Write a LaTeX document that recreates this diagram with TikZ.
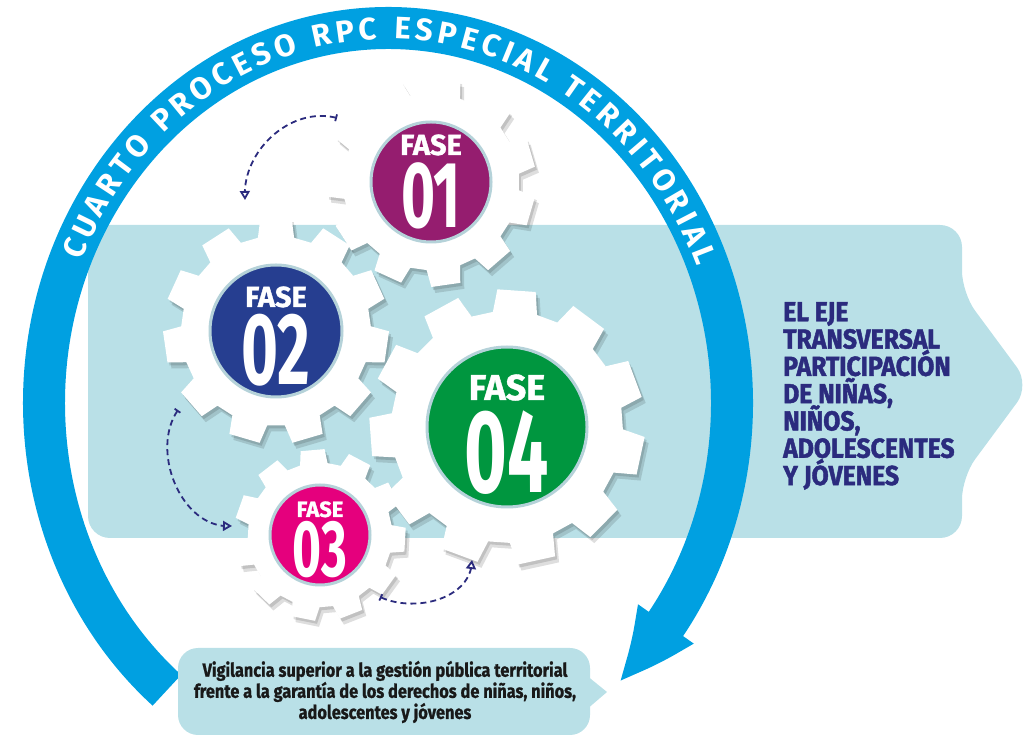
\documentclass[tikz,border=0pt]{standalone}
\usepackage{fontspec}
\usepackage{xcolor}
\usepackage{tikz}
\usetikzlibrary{arrows.meta,bending,decorations.text}
\newfontfamily\firaring{Fira Sans}
\newfontfamily\heavyfont[FakeBold=1.2]{Fira Sans}
\newfontfamily\fasenumfont[FakeStretch=0.62]{Fira Sans}
\newfontfamily\ejefont[FakeStretch=0.9,FakeBold=1.6]{Fira Sans}
\newfontfamily\vigfont[FakeStretch=0.86,FakeBold=1]{Fira Sans}
\newcommand{\ringtxt}{\firaring\bfseries\fontsize{31pt}{31pt}\selectfont}
\newcommand{\fasew}[1]{\heavyfont\bfseries\fontsize{#1pt}{#1pt}\selectfont}
\newcommand{\fasen}[1]{\fasenumfont\bfseries\fontsize{#1pt}{#1pt}\selectfont}
\definecolor{ringblue}{HTML}{00A0E1}
\definecolor{bandblue}{HTML}{B9E0E7}
\definecolor{navy}{HTML}{2B2B7E}
\definecolor{discrim}{HTML}{B5D2D9}
\definecolor{fase1}{HTML}{951D6F}
\definecolor{fase2}{HTML}{263E90}
\definecolor{fase3}{HTML}{E5007D}
\definecolor{fase4}{HTML}{00963F}
\tikzstyle{band} = [fill=bandblue]
\tikzstyle{ringline} = [line width=42pt, draw=ringblue, -{Triangle[length=75pt,width=62pt,bend]}]
\tikzstyle{gearshadow} = [fill=black, opacity=0.13]
\tikzstyle{gearfill} = [fill=white]
\tikzstyle{fasedisc} = [circle, inner sep=0pt, draw=discrim, line width=3pt]
\tikzstyle{faseword} = [text=white, inner sep=0pt, anchor=base]
\tikzstyle{dasharrow} = [{Bar[width=7pt]}-{Triangle[open,length=9pt,width=10pt]}, dash pattern=on 6pt off 4pt, line width=1.8pt, draw=navy]
\tikzstyle{ejetext} = [text=navy, align=left, inner sep=0pt, anchor=north west]
\tikzstyle{vigtext} = [text=black!90, align=center, inner sep=0pt]
\tikzset{gear outline/.style 2 args={insert path={({#2-11}:{0.84*#1})
  \foreach \k in {0,...,10}{ -- ({#2+\k*32.73-11}:{0.84*#1}) -- ({#2+\k*32.73-8}:{#1})
  -- ({#2+\k*32.73+8}:{#1}) -- ({#2+\k*32.73+11}:{0.84*#1}) } -- cycle}}}

\begin{document}
\begin{tikzpicture}[x=1pt, y=1pt]
\useasboundingbox (0,0) rectangle (1036,736);

% band with arrow
\fill[band, rounded corners=22pt] (88,198) -- (88,511) -- (962,511) -- (962,443) -- (1030,351) -- (962,259) -- (962,198) -- cycle;

% ring
\coordinate (ringc) at (388,333);
\draw[ringline] (ringc) ++(230:344pt and 375pt) arc[start angle=230, end angle=-48, x radius=344pt, y radius=375pt];
\path[decorate, decoration={text along path, text color=white, text align={fit to path},
  text={|\ringtxt|CUARTO PROCESO RPC ESPECIAL TERRITORIAL}}]
  (ringc) ++(157:333pt and 364pt) arc[start angle=157, end angle=22, x radius=333pt, y radius=364pt];

% gears
\foreach \cx/\cy/\R/\rot in {431/554/105/180, 276/405/113/90, 320/201/86/95, 507/309/138/86} {
  \fill[gearshadow, shift={(\cx+2,\cy-3)}, gear outline={\R}{\rot}];
  \fill[gearshadow, shift={(\cx+4,\cy-6)}, gear outline={\R}{\rot}];
}
\foreach \cx/\cy/\R/\rot in {431/554/105/180, 276/405/113/90, 320/201/86/95, 507/309/138/86}
  \fill[gearfill, shift={(\cx,\cy)}, gear outline={\R}{\rot}];

\node[fasedisc, fill=fase1, minimum size=120pt] (disc1) at (431,554) {};
\node[faseword, font={\fasew{29}}] (word1) at ([yshift=27pt]disc1.center) {FASE};
\node[faseword, font={\fasen{94}}] (num1) at ([yshift=-46pt]disc1.center) {01};

\node[fasedisc, fill=fase2, minimum size=132pt] (disc2) at (276,405) {};
\node[faseword, font={\fasew{29}}] (word2) at ([yshift=24pt]disc2.center) {FASE};
\node[faseword, font={\fasen{102}}] (num2) at ([yshift=-54pt]disc2.center) {02};

\node[fasedisc, fill=fase3, minimum size=100pt] (disc3) at (320,201) {};
\node[faseword, font={\fasew{22}}] (word3) at ([yshift=18pt]disc3.center) {FASE};
\node[faseword, font={\fasen{80}}] (num3) at ([yshift=-42pt]disc3.center) {03};

\node[fasedisc, fill=fase4, minimum size=160pt] (disc4) at (507,309) {};
\node[faseword, font={\fasew{36}}] (word4) at ([yshift=27pt]disc4.center) {FASE};
\node[faseword, font={\fasen{118}}] (num4) at ([yshift=-66pt]disc4.center) {04};

% dashed arrows
\coordinate (a1s) at (337,618);
\coordinate (a1e) at (245,536);
\coordinate (a2s) at (178,326);
\coordinate (a2e) at (232,210);
\coordinate (a3s) at (380,139);
\coordinate (a3e) at (472,176);
\draw[dasharrow] (a1s) to[out=165, in=95] (a1e);
\draw[dasharrow] (a2s) to[out=235, in=185] (a2e);
\draw[dasharrow] (a3s) to[out=-25, in=-90] (a3e);

% right text
\node[ejetext, font={\ejefont\bfseries\fontsize{27.5pt}{27.3pt}\selectfont\lineskiplimit=-50pt}] (eje) at (783,434)
  {EL EJE\\TRANSVERSAL\\PARTICIPACIÓN\\DE NIÑAS,\\NIÑOS,\\ADOLESCENTES\\Y JÓVENES};

% bottom box
\fill[bandblue, rounded corners=20pt] (178,1) rectangle (590,88);
\fill[bandblue] (586,61) -- (607,44) -- (586,26) -- cycle;
\node[vigtext, font={\vigfont\bfseries\fontsize{19pt}{20pt}\selectfont}] (vig) at (385,44)
  {Vigilancia superior a la gestión pública territorial\\frente a la garantía de los derechos de niñas, niños,\\adolescentes y jóvenes};
\end{tikzpicture}
\end{document}
